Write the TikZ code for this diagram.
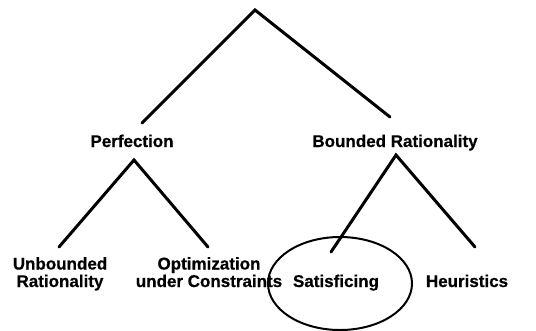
\documentclass[tikz,border=0pt]{standalone}
\usepackage{fontspec}
\setmainfont{Liberation Sans}
\newfontfamily\heavyfont{Liberation Sans Bold}[FakeBold=0.6]
\usetikzlibrary{shapes.geometric}
\begin{document}
\begin{tikzpicture}[x=1bp,y=-1bp,
  lbl/.style={font=\heavyfont\fontsize{17bp}{17.5bp}\selectfont, inner sep=0pt, anchor=base, align=center},
  edge/.style={line width=3bp, line cap=round, line join=miter},
  ring/.style={draw, line width=2bp, ellipse, minimum width=144bp, minimum height=93bp, inner sep=0pt}]
\useasboundingbox (0,0) rectangle (536,330);
% labels
\node[lbl] (perf) at (132,147) {Perfection};
\node[lbl] (bound) at (395,147) {Bounded Rationality};
\node[lbl] (unb) at (60,287) {Unbounded\\Rationality};
\node[lbl] (opt) at (209,287) {Optimization\\under Constraints};
\node[lbl] (sat) at (336,287) {Satisficing};
\node[lbl] (heu) at (467,287) {Heuristics};
% connector points
\coordinate (top) at (255,10);
\coordinate (topL) at (142,123);
\coordinate (topR) at (390,117);
\coordinate (pA) at (134,160);
\coordinate (pL) at (59,247);
\coordinate (pR) at (208,247);
\coordinate (bA) at (396,155);
\coordinate (bL) at (331,252);
\coordinate (bR) at (475,247);
\draw[edge] (topL) -- (top) -- (topR);
\draw[edge] (pL) -- (pA) -- (pR);
\draw[edge] (bL) -- (bA) -- (bR);
% ellipse
\node[ring] (circ) at (340,283.5) {};
\end{tikzpicture}
\end{document}
